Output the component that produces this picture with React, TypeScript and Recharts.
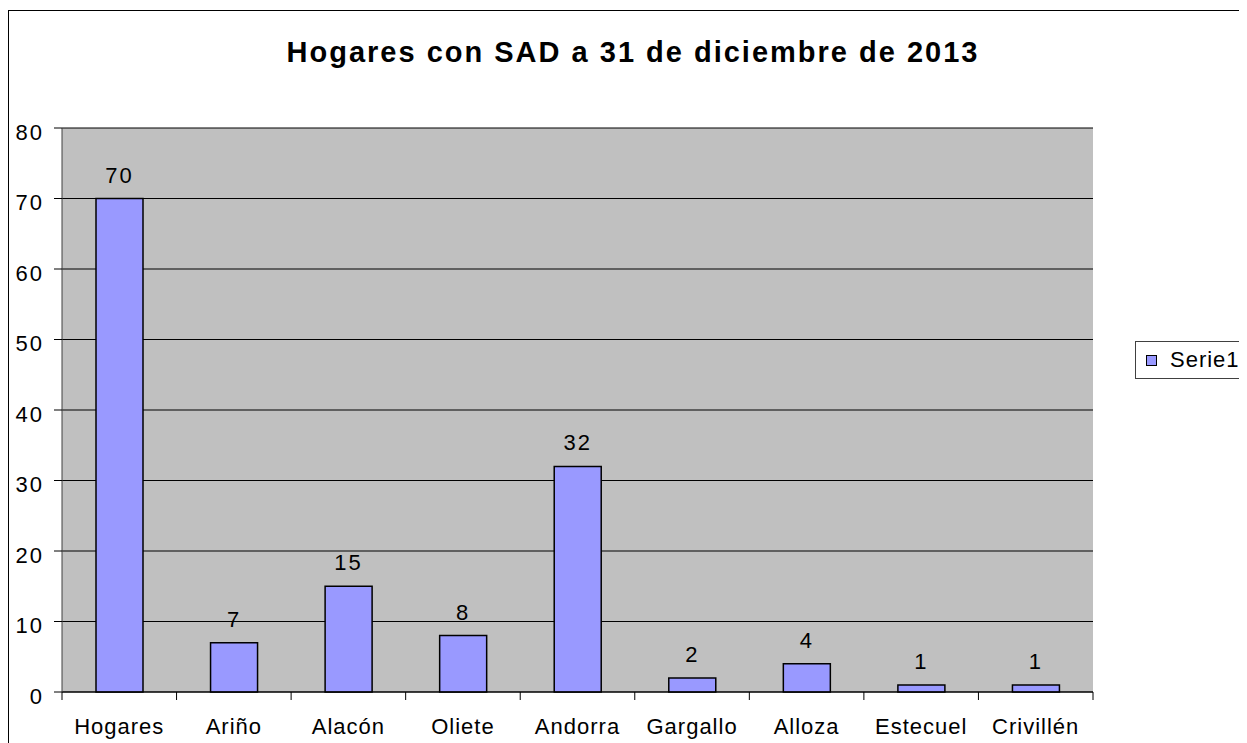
import { BarChart, Bar, XAxis, YAxis, CartesianGrid, Legend, LabelList } from 'recharts'

const categories = ['Hogares', 'Ariño', 'Alacón', 'Oliete', 'Andorra', 'Gargallo', 'Alloza', 'Estecuel', 'Crivillén']
const serie1 = [70, 7, 15, 8, 32, 2, 4, 1, 1]
const yTicks = [0, 10, 20, 30, 40, 50, 60, 70, 80]

const FONT = '"Liberation Sans", Arial, sans-serif'
const X_TICK_MARGIN = 26

const data = categories.map((name, i) => ({ name, Serie1: serie1[i] }))

// Excel puts the category tick marks between the bars, so draw them at the band edges
function CategoryTick(props: any) {
  const { x, y, payload, index } = props
  const half = payload && payload.offset ? payload.offset : 0
  const axisY = y - X_TICK_MARGIN
  const last = index === categories.length - 1
  return (
    <g>
      <line x1={x - half} x2={x - half} y1={axisY} y2={axisY + 8} stroke="#000" />
      {last && <line x1={x + half} x2={x + half} y1={axisY} y2={axisY + 8} stroke="#000" />}
      <text
        x={x}
        y={y}
        dy="0.71em"
        textAnchor="middle"
        fill="#000"
        fontSize={22}
        fontFamily={FONT}
        letterSpacing={1}
      >
        {payload.value}
      </text>
    </g>
  )
}

function renderLegend(props: any) {
  const items = props.payload || []
  return (
    <div
      style={{
        border: '1px solid #404040',
        background: '#fff',
        height: 36,
        width: 130,
        display: 'flex',
        alignItems: 'center',
        fontFamily: FONT,
        fontSize: 22,
        letterSpacing: 1,
      }}
    >
      {items.map((it: any) => (
        <div key={it.value} style={{ display: 'flex', alignItems: 'center' }}>
          <span
            style={{
              display: 'inline-block',
              width: 9,
              height: 9,
              marginLeft: 10,
              marginRight: 13,
              background: '#9999FF',
              border: '1px solid #000',
            }}
          />
          <span style={{ color: '#000' }}>{it.value}</span>
        </div>
      ))}
    </div>
  )
}

export default function App() {
  return (
    <div style={{ position: 'relative', width: 1239, height: 735, overflow: 'hidden', background: '#fff' }}>
      <div
        style={{
          position: 'absolute',
          left: 0,
          top: 2,
          width: 1260,
          height: 760,
          borderLeft: '1px solid #000',
          borderTop: '1px solid #000',
        }}
      />
      <div
        style={{
          position: 'absolute',
          left: 0,
          top: 30,
          width: 1250,
          textAlign: 'center',
          fontFamily: FONT,
          fontWeight: 'bold',
          fontSize: 29,
          lineHeight: '28px',
          letterSpacing: 2,
          color: '#000',
        }}
      >
        Hogares con SAD a 31 de diciembre de 2013
      </div>
      <div style={{ position: 'absolute', left: 0, top: 0 }}>
        <BarChart
          width={1239}
          height={735}
          data={data}
          margin={{ top: 120, right: 154, bottom: 0, left: 0 }}
        >
          <CartesianGrid fill="#C0C0C0" stroke="#000" vertical={false} />
          <XAxis
            dataKey="name"
            height={51}
            tickLine={false}
            tickSize={0}
            tickMargin={X_TICK_MARGIN}
            axisLine={{ stroke: '#000' }}
            tick={<CategoryTick />}
            interval={0}
          />
          <YAxis
            domain={[0, 80]}
            ticks={yTicks}
            width={54}
            tickSize={8}
            tickMargin={10}
            axisLine={{ stroke: '#404040' }}
            tickLine={{ stroke: '#000' }}
            tick={{ fill: '#000', fontSize: 22, fontFamily: FONT, letterSpacing: 2, dy: 4 }}
          />
          <YAxis
            yAxisId="r"
            orientation="right"
            width={0}
            tick={false}
            tickLine={false}
            axisLine={{ stroke: '#808080' }}
          />
          <Legend
            layout="vertical"
            align="center"
            verticalAlign="middle"
            content={renderLegend}
            wrapperStyle={{ position: 'absolute', left: 1127, top: 333, width: 130, height: 38 }}
          />
          <Bar
            dataKey="Serie1"
            fill="#9999FF"
            stroke="#000"
            strokeWidth={1.5}
            barSize={47}
            isAnimationActive={false}
          >
            <LabelList
              dataKey="Serie1"
              position="top"
              offset={16}
              fill="#000"
              fontSize={22}
              fontFamily={FONT}
              letterSpacing={2}
            />
          </Bar>
        </BarChart>
      </div>
    </div>
  )
}
